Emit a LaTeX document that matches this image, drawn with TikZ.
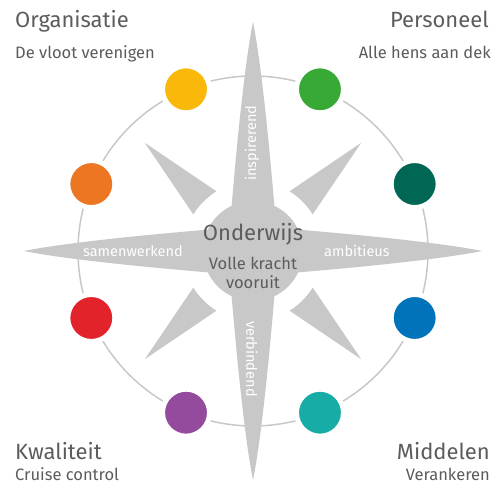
\documentclass[tikz,border=0pt]{standalone}
\usepackage{fontspec}
\setmainfont{Fira Sans}
\definecolor{roos}{RGB}{200,200,200}
\definecolor{tekst}{RGB}{92,92,92}
\definecolor{geel}{RGB}{250,185,10}
\definecolor{oranje}{RGB}{236,118,33}
\definecolor{groen}{RGB}{57,169,53}
\definecolor{donkergroen}{RGB}{0,103,84}
\definecolor{blauw}{RGB}{0,115,186}
\definecolor{turkoois}{RGB}{23,172,165}
\definecolor{paars}{RGB}{148,75,158}
\definecolor{rood}{RGB}{226,35,42}
\begin{document}
\begin{tikzpicture}[x=1pt,y=1pt,
        dot/.style={circle,minimum size=47pt,inner sep=0pt,draw=white,line width=5pt},
        titel/.style={text=tekst,font=\fontsize{22}{25}\selectfont,inner sep=0pt},
        sub/.style={text=tekst,font=\fontsize{16.5}{19}\selectfont,inner sep=0pt},
        armtekst/.style={text=white,font=\fontsize{14.5}{17}\selectfont,inner sep=0pt}]
                \useasboundingbox[fill=white] (-253,-237) rectangle (248,251);
                \draw[roos,line width=1.5pt] (0,0) circle (175);
                \foreach \a in {0,90,180,270}
                {
                    \fill[roos,rotate=\a] (-25,0) .. controls (-15,130) and (-6,200) .. (0,229) .. controls (6,200) and (15,130) .. (25,0) -- cycle;
                }
                \foreach \a in {45,135,225,315}
                {
                    \fill[roos] (\a-13.5:70) -- (\a:153) -- (\a+13.5:70) arc[start angle=\a+13.5,end angle=\a-13.5,radius=70] -- cycle;
                }
                \fill[roos] (0,0) circle (50);
                \foreach \a/\k in {112.5/geel,67.5/groen,22.5/donkergroen,-22.5/blauw,-67.5/turkoois,247.5/paars,202.5/rood,157.5/oranje}
                {
                    \node[dot,fill=\k] (\k) at (\a:175) {};
                }
                \node[armtekst,rotate=90,anchor=west] (inspirerend) at (-1,70) {inspirerend};
                \node[armtekst,rotate=-90,anchor=west] (verbindend) at (-1,-70) {verbindend};
                \node[armtekst,anchor=east] (samenwerkend) at (-70,0) {samenwerkend};
                \node[armtekst,anchor=west] (ambitieus) at (71,0) {ambitieus};
                \node[titel,anchor=base] (onderwijs) at (0,11) {Onderwijs};
                \node[sub,anchor=base] (kracht) at (0,-18) {Volle kracht};
                \node[sub,anchor=base] (vooruit) at (0,-37) {vooruit};
                \node[titel,anchor=base west] (organisatie) at (-238,223) {Organisatie};
                \node[sub,anchor=base west] (vloot) at (-238,193) {De vloot verenigen};
                \node[titel,anchor=base east] (personeel) at (236,223) {Personeel};
                \node[sub,anchor=base east] (hens) at (238,193) {Alle hens aan dek};
                \node[titel,anchor=base west] (kwaliteit) at (-238,-208) {Kwaliteit};
                \node[sub,anchor=base west] (cruise) at (-238,-229) {Cruise control};
                \node[titel,anchor=base east] (middelen) at (237,-208) {Middelen};
                \node[sub,anchor=base east] (verankeren) at (237,-229) {Verankeren};
\end{tikzpicture}
\end{document}
